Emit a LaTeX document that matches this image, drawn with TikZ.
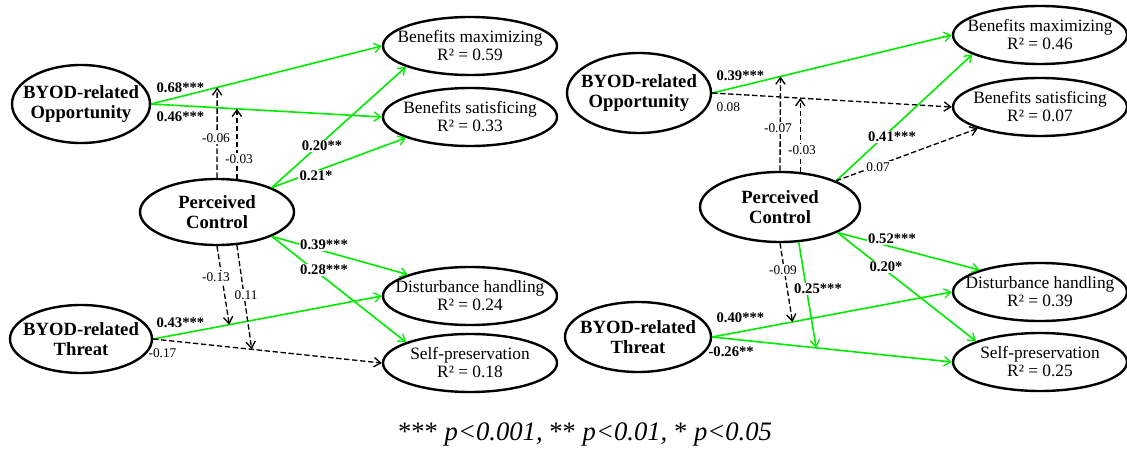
\documentclass[tikz,border=0pt]{standalone}
\usepackage{fontspec}
\setmainfont{Liberation Serif}
\usetikzlibrary{arrows.meta,shapes.geometric,calc}
\definecolor{lgreen}{RGB}{0,235,0}
\tikzset{
 lat/.style={ellipse, draw, line width=1.8pt, align=center, inner xsep=-40pt, inner ysep=-20pt, font=\bfseries\fontsize{14}{15}\selectfont},
 obs/.style={ellipse, draw, line width=1.8pt, align=center, inner xsep=-40pt, inner ysep=-20pt, minimum width=130.5pt, minimum height=43.5pt, font=\fontsize{13}{13.5}\selectfont},
 tipx/.style={-{Straight Barb[length=5pt,width=7pt,line width=1pt]}},
 sig/.style={tipx, draw=lgreen, line width=1.2pt},
 ns/.style={tipx, draw=black, line width=1pt, dash pattern=on 4pt off 2pt},
 bcoef/.style={font=\bfseries\fontsize{11}{11}\selectfont, inner sep=1pt},
 ncoef/.style={font=\fontsize{10}{10}\selectfont, inner sep=1pt},
 wbg/.style={fill=white},
}
\begin{document}
\begin{tikzpicture}[x=0.75pt,y=-0.75pt]
\useasboundingbox (0,0) rectangle (1127,452);
% ---------- left model ----------
\node[lat, minimum width=103.5pt, minimum height=58.5pt] (opp) at (81,104) {BYOD-related\\Opportunity};
\node[lat, minimum width=106.5pt, minimum height=51pt] (thr) at (81,339) {BYOD-related\\Threat};
\node[lat, minimum width=115.5pt, minimum height=49.5pt] (pc) at (217,212) {Perceived\\Control};
\node[obs] (bmax) at (470,46) {Benefits maximizing\\R² = 0.59};
\node[obs] (bsat) at (470,117) {Benefits satisficing\\R² = 0.33};
\node[obs] (dist) at (470,296) {Disturbance handling\\R² = 0.24};
\node[obs] (self) at (470,363) {Self-preservation\\R² = 0.18};

\draw[sig] (opp.east) -- coordinate[pos=0.286] (m1) (bmax.west);
\draw[sig] (opp.east) -- coordinate[pos=0.368] (m2) (bsat.west);
\draw[sig] (pc.24) -- (bmax.198);
\draw[sig] (pc.24) -- (bsat.198);
\draw[sig] (pc.336) -- (dist.161);
\draw[sig] (pc.336) -- (self.162);
\draw[sig] (thr.east) -- coordinate[pos=0.333] (m3) (dist.west);
\draw[ns] (thr.east) -- coordinate[pos=0.431] (m4) (self.west);
\draw[ns] (pc.north) -- (m1);
\draw[ns] (pc.59) -- (pc.59 |- m2);
\draw[ns] (pc.south) -- (m3);
\draw[ns] (pc.301) -- (m4);

\node[bcoef, anchor=west] (l1) at (155,88) {0.68***};
\node[bcoef, anchor=west] (l2) at (155,117) {0.46***};
\node[ncoef, wbg] (l3) at (216,138) {-0.06};
\node[ncoef, wbg] (l4) at (239,159) {-0.03};
\node[bcoef, wbg] (l5) at (322,146) {0.20**};
\node[bcoef, wbg] (l6) at (316,176) {0.21*};
\node[bcoef, wbg] (l7) at (324,245) {0.39***};
\node[bcoef, wbg] (l8) at (324,270) {0.28***};
\node[ncoef, wbg] (l9) at (216,277) {-0.13};
\node[ncoef, wbg] (l10) at (246,295) {0.11};
\node[bcoef, anchor=west] (l11) at (155,323) {0.43***};
\node[ncoef, anchor=west] (l12) at (147,353) {-0.17};

% ---------- right model ----------
\node[lat, minimum width=108pt, minimum height=60pt] (ropp) at (639,93) {BYOD-related\\Opportunity};
\node[lat, minimum width=120pt, minimum height=52.5pt] (rpc) at (780,207) {Perceived\\Control};
\node[lat, minimum width=109.5pt, minimum height=52.5pt] (rthr) at (638,337) {BYOD-related\\Threat};
\node[obs] (rbmax) at (1040,35) {Benefits maximizing\\R² = 0.46};
\node[obs] (rbsat) at (1040,107) {Benefits satisficing\\R² = 0.07};
\node[obs] (rdist) at (1040,292) {Disturbance handling\\R² = 0.39};
\node[obs] (rself) at (1040,362) {Self-preservation\\R² = 0.25};

\draw[sig] (ropp.east) -- coordinate[pos=0.285] (r1) (rbmax.west);
\draw[ns] (ropp.east) -- coordinate[pos=0.368] (r2) (rbsat.west);
\draw[sig] (rpc.25) -- (rbmax.196);
\draw[ns] (rpc.25) -- (rbsat.199);
\draw[sig] (rpc.336) -- (rdist.160);
\draw[sig] (rpc.336) -- (rself.162);
\draw[sig] (rthr.east) -- coordinate[pos=0.335] (r3) (rdist.west);
\draw[sig] (rthr.east) -- coordinate[pos=0.434] (r4) (rself.west);
\draw[ns] (rpc.north) -- (r1);
\draw[ns] (rpc.60) -- (rpc.60 |- r2);
\draw[ns] (rpc.south) -- (r3);
\draw[sig] (rpc.298) -- (r4);

\node[bcoef, anchor=west] (k1) at (715,76) {0.39***};
\node[ncoef, anchor=west] (k2) at (715,107) {0.08};
\node[ncoef, wbg] (k3) at (778,128) {-0.07};
\node[ncoef, wbg] (k4) at (802,150) {-0.03};
\node[bcoef, wbg] (k5) at (892,137) {0.41***};
\node[ncoef, wbg] (k6) at (878,167) {0.07};
\node[bcoef, wbg] (k7) at (892,239) {0.52***};
\node[bcoef, wbg] (k8) at (886,267) {0.20*};
\node[ncoef, wbg] (k9) at (783,270) {-0.09};
\node[bcoef, wbg] (k10) at (818,289) {0.25***};
\node[bcoef, anchor=west] (k11) at (715,318) {0.40***};
\node[bcoef, anchor=west] (k12) at (707,352) {-0.26**};

% ---------- footnote ----------
\node (fn) at (585,434) {\fontsize{20}{20}\selectfont *** \textit{p<0.001,} ** \textit{p<0.01,} * \textit{p<0.05}};
\end{tikzpicture}
\end{document}
